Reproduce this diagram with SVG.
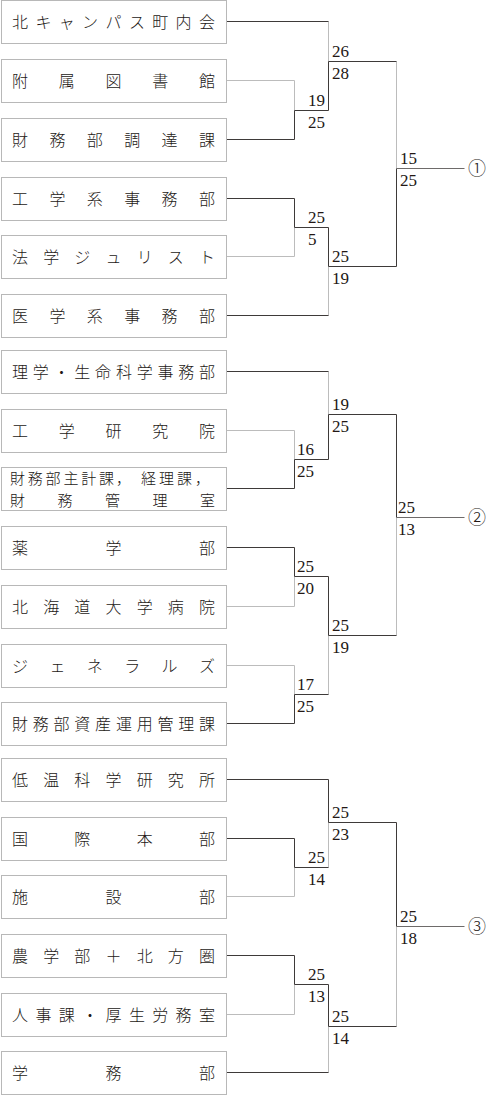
<svg xmlns="http://www.w3.org/2000/svg" width="489" height="1095" viewBox="0 0 489 1095">
<style>
.bg{fill:#ffffff}
.box rect{fill:#ffffff;stroke:#b8b8b8;stroke-width:1}
.box text{font-family:"Noto Sans CJK JP","Noto Sans CJK SC",sans-serif;font-size:16px;font-weight:300;fill:#231815}
.box text.two{font-size:15px}
.d{fill:none;stroke:#3e3a39;stroke-width:1}
.l{fill:none;stroke:#bcbcbc;stroke-width:1}
.o{fill:none;stroke:#6e6b6a;stroke-width:1}
.s{font-family:"Liberation Serif","Times New Roman",serif;font-size:17px;fill:#231815}
.c{font-family:"Noto Sans CJK JP",sans-serif;font-size:18px;font-weight:300;fill:#231815;text-anchor:middle}
</style>
<rect class="bg" x="0" y="0" width="489" height="1095"/>

<g id="connectors">
<path class="l" d="M226.5 80.5H294.5V110.5"/>
<path class="l" d="M328.5 21.5V61.5"/>
<path class="l" d="M226.5 256.5H294.5V227.5"/>
<path class="l" d="M328.5 315.5V266.5"/>
<path class="l" d="M396.5 61.5V168.5"/>
<path class="d" d="M226.5 21.5H328.5"/>
<path class="d" d="M226.5 139.5H294.5V110.5H328.5V61.5H396.5"/>
<path class="d" d="M226.5 198.5H294.5V227.5H328.5V266.5H396.5V168.5"/>
<path class="d" d="M226.5 315.5H328.5"/>
<path class="o" d="M396.5 168.5H464.5"/>
<path class="l" d="M226.5 430.5H294.5V459.5"/>
<path class="l" d="M328.5 371.5V414.5"/>
<path class="l" d="M226.5 606.5H294.5V576.5"/>
<path class="l" d="M226.5 665.5H294.5V694.5"/>
<path class="l" d="M328.5 694.5V635.5"/>
<path class="l" d="M396.5 635.5V517.5"/>
<path class="d" d="M226.5 371.5H328.5"/>
<path class="d" d="M226.5 488.5H294.5V459.5H328.5V414.5H396.5V517.5"/>
<path class="d" d="M226.5 547.5H294.5V576.5H328.5V635.5H396.5"/>
<path class="d" d="M226.5 723.5H294.5V694.5H328.5"/>
<path class="o" d="M396.5 517.5H464.5"/>
<path class="l" d="M226.5 896.5H294.5V867.5"/>
<path class="l" d="M328.5 867.5V822.5"/>
<path class="l" d="M226.5 1014.5H294.5V984.5"/>
<path class="l" d="M328.5 1072.5V1026.5"/>
<path class="l" d="M396.5 1026.5V926.5"/>
<path class="d" d="M226.5 779.5H328.5V822.5H396.5V926.5"/>
<path class="d" d="M226.5 838.5H294.5V867.5H328.5"/>
<path class="d" d="M226.5 955.5H294.5V984.5H328.5V1026.5H396.5"/>
<path class="d" d="M226.5 1072.5H328.5"/>
<path class="o" d="M396.5 926.5H464.5"/>
</g>

<g id="scores">
<text class="s" x="332" y="56.5">26</text>
<text class="s" x="332" y="79">28</text>
<text class="s" x="308" y="105.5">19</text>
<text class="s" x="308" y="128">25</text>
<text class="s" x="400" y="163.5">15</text>
<text class="s" x="400" y="186">25</text>
<text class="s" x="308" y="222.5">25</text>
<text class="s" x="308" y="245">5</text>
<text class="s" x="332" y="261.5">25</text>
<text class="s" x="332" y="284">19</text>
<text class="s" x="332" y="409.5">19</text>
<text class="s" x="332" y="432">25</text>
<text class="s" x="297" y="454.5">16</text>
<text class="s" x="297" y="477">25</text>
<text class="s" x="398" y="512.5">25</text>
<text class="s" x="398" y="535">13</text>
<text class="s" x="297" y="571.5">25</text>
<text class="s" x="297" y="594">20</text>
<text class="s" x="332" y="630.5">25</text>
<text class="s" x="332" y="653">19</text>
<text class="s" x="297" y="689.5">17</text>
<text class="s" x="297" y="712">25</text>
<text class="s" x="332" y="817.5">25</text>
<text class="s" x="332" y="840">23</text>
<text class="s" x="308" y="862.5">25</text>
<text class="s" x="308" y="885">14</text>
<text class="s" x="400" y="921.5">25</text>
<text class="s" x="400" y="944">18</text>
<text class="s" x="308" y="979.5">25</text>
<text class="s" x="308" y="1002">13</text>
<text class="s" x="332" y="1021.5">25</text>
<text class="s" x="332" y="1044">14</text>
</g>

<g id="results">
<text class="c" x="477" y="175">①</text>
<text class="c" x="477" y="524">②</text>
<text class="c" x="477" y="933">③</text>
</g>

<g id="n1" class="box"><rect x="1.5" y="0.5" width="225" height="43"/><text x="12 35.4 58.8 82.1 105.5 128.9 152.3 175.6 199" y="28">北キャンパス町内会</text></g>
<g id="n2" class="box"><rect x="1.5" y="59.5" width="225" height="43"/><text x="12 58.75 105.5 152.25 199" y="87">附属図書館</text></g>
<g id="n3" class="box"><rect x="1.5" y="118.5" width="225" height="43"/><text x="12 49.4 86.8 124.2 161.6 199" y="146">財務部調達課</text></g>
<g id="n4" class="box"><rect x="1.5" y="177.5" width="225" height="43"/><text x="12 49.4 86.8 124.2 161.6 199" y="205">工学系事務部</text></g>
<g id="n5" class="box"><rect x="1.5" y="235.5" width="225" height="43"/><text x="12 43.2 74.3 105.5 136.7 167.8 199" y="263">法学ジュリスト</text></g>
<g id="n6" class="box"><rect x="1.5" y="294.5" width="225" height="43"/><text x="12 49.4 86.8 124.2 161.6 199" y="322">医学系事務部</text></g>
<g id="n7" class="box"><rect x="1.5" y="350.5" width="225" height="43"/><text x="12 32.8 53.6 74.3 95.1 115.9 136.7 157.4 178.2 199" y="378">理学・生命科学事務部</text></g>
<g id="n8" class="box"><rect x="1.5" y="409.5" width="225" height="43"/><text x="12 58.75 105.5 152.25 199" y="437">工学研究院</text></g>
<g id="n9" class="box"><rect x="1.5" y="467.5" width="225" height="43"/><text class="two"><tspan x="10 27.8 45.6 63.4 81.2 99 116 141 159 177 195" y="484">財務部主計課，経理課，</tspan><tspan x="10 57.5 105 152.5 200" y="506">財務管理室</tspan></text></g>
<g id="n10" class="box"><rect x="1.5" y="526.5" width="225" height="43"/><text x="12 105.5 199" y="554">薬学部</text></g>
<g id="n11" class="box"><rect x="1.5" y="585.5" width="225" height="43"/><text x="12 43.2 74.3 105.5 136.7 167.8 199" y="613">北海道大学病院</text></g>
<g id="n12" class="box"><rect x="1.5" y="644.5" width="225" height="43"/><text x="12 49.4 86.8 124.2 161.6 199" y="672">ジェネラルズ</text></g>
<g id="n13" class="box"><rect x="1.5" y="702.5" width="225" height="43"/><text x="12 32.8 53.6 74.3 95.1 115.9 136.7 157.4 178.2 199" y="730">財務部資産運用管理課</text></g>
<g id="n14" class="box"><rect x="1.5" y="758.5" width="225" height="43"/><text x="12 43.2 74.3 105.5 136.7 167.8 199" y="786">低温科学研究所</text></g>
<g id="n15" class="box"><rect x="1.5" y="817.5" width="225" height="43"/><text x="12 74.3 136.7 199" y="845">国際本部</text></g>
<g id="n16" class="box"><rect x="1.5" y="875.5" width="225" height="43"/><text x="12 105.5 199" y="903">施設部</text></g>
<g id="n17" class="box"><rect x="1.5" y="934.5" width="225" height="43"/><text x="12 43.2 74.3 105.5 136.7 167.8 199" y="962">農学部＋北方圏</text></g>
<g id="n18" class="box"><rect x="1.5" y="993.5" width="225" height="43"/><text x="12 35.4 58.8 82.1 105.5 128.9 152.3 175.6 199" y="1021">人事課・厚生労務室</text></g>
<g id="n19" class="box"><rect x="1.5" y="1051.5" width="225" height="43"/><text x="12 105.5 199" y="1079">学務部</text></g>
</svg>
